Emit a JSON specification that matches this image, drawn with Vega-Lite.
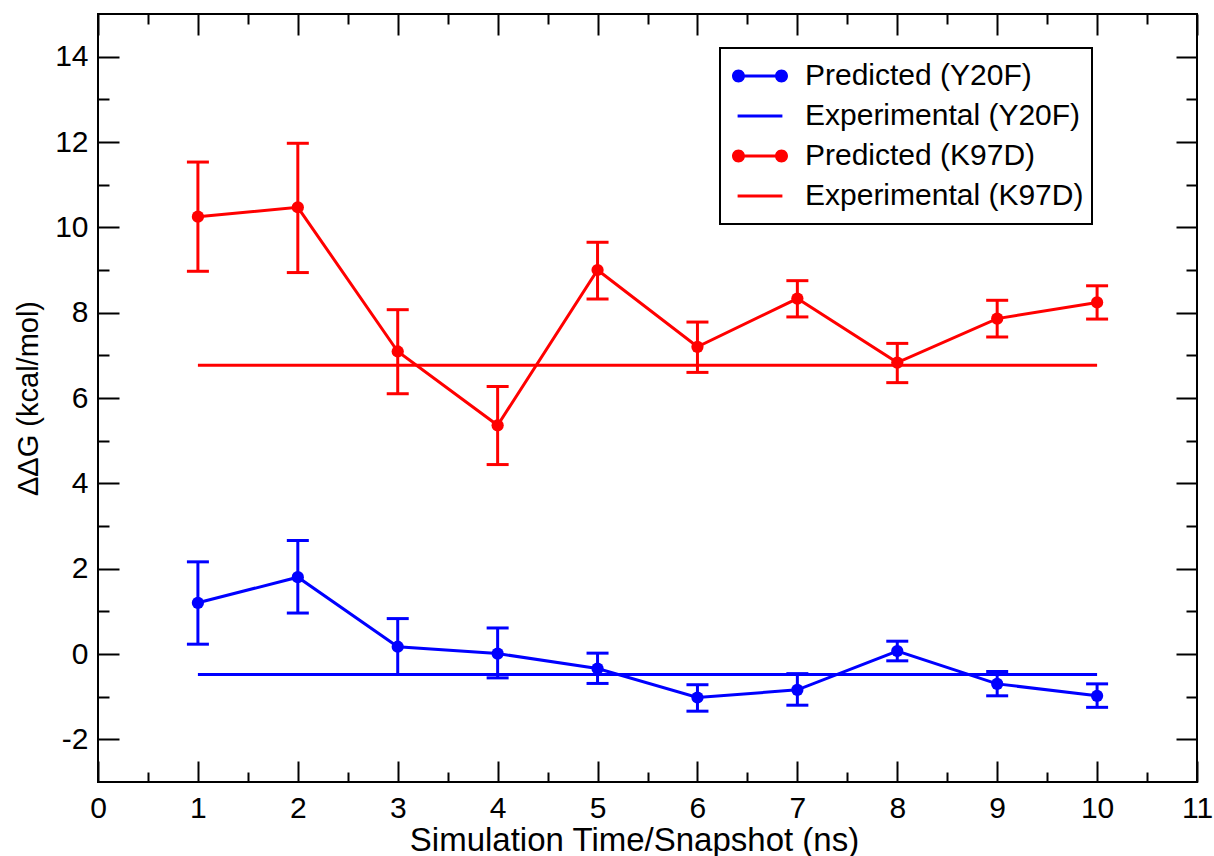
{
  "$schema": "https://vega.github.io/schema/vega-lite/v6.json",
  "autosize": {"type": "none"},
  "padding": {"left": 98, "top": 14, "right": 17, "bottom": 74},
  "width": 1099,
  "height": 768,
  "background": "white",
  "config": {
    "view": {"stroke": "black", "strokeWidth": 2},
    "font": "Liberation Sans",
    "axis": {
      "domain": false,
      "grid": false,
      "tickColor": "black",
      "tickWidth": 2,
      "labelFont": "Liberation Sans",
      "labelFontSize": 30,
      "labelColor": "black",
      "labelOverlap": false,
      "labelFlush": false,
      "titleFont": "Liberation Sans",
      "titleColor": "black",
      "titleFontWeight": "normal"
    },
    "legend": {
      "strokeColor": "black",
      "strokeWidth": 2,
      "fillColor": "white",
      "padding": 8,
      "labelFont": "Liberation Sans",
      "labelFontSize": 30,
      "labelColor": "black",
      "labelLimit": 500,
      "labelOffset": 17,
      "symbolOffset": 4,
      "symbolSize": 3136,
      "symbolOpacity": 1,
      "symbolStrokeWidth": 0,
      "clipHeight": 40,
      "rowPadding": 0
    }
  },
  "datasets": {
    "pred": [
      {"x": 1, "lab": "Predicted (Y20F)", "dg": 1.20, "lo": 0.23, "hi": 2.16},
      {"x": 2, "lab": "Predicted (Y20F)", "dg": 1.80, "lo": 0.96, "hi": 2.66},
      {"x": 3, "lab": "Predicted (Y20F)", "dg": 0.17, "lo": -0.48, "hi": 0.83},
      {"x": 4, "lab": "Predicted (Y20F)", "dg": 0.01, "lo": -0.56, "hi": 0.61},
      {"x": 5, "lab": "Predicted (Y20F)", "dg": -0.34, "lo": -0.69, "hi": 0.02},
      {"x": 6, "lab": "Predicted (Y20F)", "dg": -1.02, "lo": -1.34, "hi": -0.72},
      {"x": 7, "lab": "Predicted (Y20F)", "dg": -0.84, "lo": -1.20, "hi": -0.46},
      {"x": 8, "lab": "Predicted (Y20F)", "dg": 0.07, "lo": -0.16, "hi": 0.30},
      {"x": 9, "lab": "Predicted (Y20F)", "dg": -0.70, "lo": -0.98, "hi": -0.41},
      {"x": 10, "lab": "Predicted (Y20F)", "dg": -0.98, "lo": -1.25, "hi": -0.70},
      {"x": 1, "lab": "Predicted (K97D)", "dg": 10.25, "lo": 8.97, "hi": 11.53},
      {"x": 2, "lab": "Predicted (K97D)", "dg": 10.47, "lo": 8.94, "hi": 11.97},
      {"x": 3, "lab": "Predicted (K97D)", "dg": 7.09, "lo": 6.10, "hi": 8.07},
      {"x": 4, "lab": "Predicted (K97D)", "dg": 5.36, "lo": 4.44, "hi": 6.27},
      {"x": 5, "lab": "Predicted (K97D)", "dg": 9.00, "lo": 8.32, "hi": 9.65},
      {"x": 6, "lab": "Predicted (K97D)", "dg": 7.20, "lo": 6.60, "hi": 7.78},
      {"x": 7, "lab": "Predicted (K97D)", "dg": 8.33, "lo": 7.90, "hi": 8.75},
      {"x": 8, "lab": "Predicted (K97D)", "dg": 6.83, "lo": 6.36, "hi": 7.28},
      {"x": 9, "lab": "Predicted (K97D)", "dg": 7.86, "lo": 7.43, "hi": 8.29},
      {"x": 10, "lab": "Predicted (K97D)", "dg": 8.24, "lo": 7.85, "hi": 8.63}
    ],
    "exp": [
      {"lab": "Experimental (Y20F)", "x0": 1, "x1": 10, "dg": -0.48},
      {"lab": "Experimental (K97D)", "x0": 1, "x1": 10, "dg": 6.77}
    ],
    "leg": [
      {"lab": "Predicted (Y20F)"},
      {"lab": "Experimental (Y20F)"},
      {"lab": "Predicted (K97D)"},
      {"lab": "Experimental (K97D)"}
    ]
  },
  "resolve": {"axis": {"x": "independent", "y": "independent"}, "scale": {"color": "independent", "shape": "independent"}},
  "layer": [
    {
      "data": {"name": "exp"},
      "mark": {"type": "rule", "strokeWidth": 3},
      "encoding": {
        "x": {"field": "x0", "type": "quantitative",
          "scale": {"domain": [0, 11], "nice": false, "zero": false},
          "axis": {
            "orient": "bottom",
            "values": [0, 0.5, 1, 1.5, 2, 2.5, 3, 3.5, 4, 4.5, 5, 5.5, 6, 6.5, 7, 7.5, 8, 8.5, 9, 9.5, 10, 10.5, 11],
            "tickSize": {"condition": {"test": "datum.value % 1 === 0", "value": -21}, "value": -10},
            "labelExpr": "datum.value % 1 === 0 ? '' + datum.value : ''",
            "labelPadding": 32,
            "title": "Simulation Time/Snapshot (ns)",
            "titleFontSize": 33,
            "titleBaseline": "alphabetic",
            "titleY": 68,
            "titleX": 536
          }},
        "x2": {"field": "x1"},
        "y": {"field": "dg", "type": "quantitative",
          "scale": {"domain": [-3, 15], "nice": false, "zero": false},
          "axis": {
            "orient": "left",
            "values": [-2, -1, 0, 1, 2, 3, 4, 5, 6, 7, 8, 9, 10, 11, 12, 13, 14],
            "tickSize": {"condition": {"test": "datum.value % 2 === 0", "value": -21}, "value": -11},
            "labelExpr": "datum.value % 2 === 0 ? '' + datum.value : ''",
            "labelPadding": 31,
            "title": "ΔΔG (kcal/mol)",
            "titleFontSize": 29,
            "titleBaseline": "alphabetic",
            "titleX": -61
          }},
        "color": {"field": "lab", "type": "nominal",
          "scale": {"domain": ["Experimental (Y20F)", "Experimental (K97D)"], "range": ["#0000ff", "#ff0000"]},
          "legend": null}
      }
    },
    {
      "data": {"name": "pred"},
      "mark": {"type": "rule", "strokeWidth": 3},
      "encoding": {
        "x": {"field": "x", "type": "quantitative", "scale": {"domain": [0, 11], "nice": false, "zero": false}, "axis": null},
        "y": {"field": "lo", "type": "quantitative", "scale": {"domain": [-3, 15], "nice": false, "zero": false}, "axis": null},
        "y2": {"field": "hi"},
        "color": {"field": "lab", "type": "nominal",
          "scale": {"domain": ["Predicted (Y20F)", "Predicted (K97D)"], "range": ["#0000ff", "#ff0000"]},
          "legend": null}
      }
    },
    {
      "data": {"name": "pred"},
      "mark": {"type": "tick", "orient": "horizontal", "size": 22, "thickness": 3, "opacity": 1},
      "encoding": {
        "x": {"field": "x", "type": "quantitative", "scale": {"domain": [0, 11], "nice": false, "zero": false}, "axis": null},
        "y": {"field": "lo", "type": "quantitative", "scale": {"domain": [-3, 15], "nice": false, "zero": false}, "axis": null},
        "color": {"field": "lab", "type": "nominal",
          "scale": {"domain": ["Predicted (Y20F)", "Predicted (K97D)"], "range": ["#0000ff", "#ff0000"]},
          "legend": null}
      }
    },
    {
      "data": {"name": "pred"},
      "mark": {"type": "tick", "orient": "horizontal", "size": 22, "thickness": 3, "opacity": 1},
      "encoding": {
        "x": {"field": "x", "type": "quantitative", "scale": {"domain": [0, 11], "nice": false, "zero": false}, "axis": null},
        "y": {"field": "hi", "type": "quantitative", "scale": {"domain": [-3, 15], "nice": false, "zero": false}, "axis": null},
        "color": {"field": "lab", "type": "nominal",
          "scale": {"domain": ["Predicted (Y20F)", "Predicted (K97D)"], "range": ["#0000ff", "#ff0000"]},
          "legend": null}
      }
    },
    {
      "data": {"name": "pred"},
      "mark": {"type": "line", "strokeWidth": 3},
      "encoding": {
        "x": {"field": "x", "type": "quantitative", "scale": {"domain": [0, 11], "nice": false, "zero": false}, "axis": null},
        "y": {"field": "dg", "type": "quantitative", "scale": {"domain": [-3, 15], "nice": false, "zero": false}, "axis": null},
        "color": {"field": "lab", "type": "nominal",
          "scale": {"domain": ["Predicted (Y20F)", "Predicted (K97D)"], "range": ["#0000ff", "#ff0000"]},
          "legend": null}
      }
    },
    {
      "data": {"name": "pred"},
      "mark": {"type": "point", "filled": true, "size": 150, "opacity": 1},
      "encoding": {
        "x": {"field": "x", "type": "quantitative", "scale": {"domain": [0, 11], "nice": false, "zero": false},
          "axis": {
            "orient": "top",
            "values": [0, 0.5, 1, 1.5, 2, 2.5, 3, 3.5, 4, 4.5, 5, 5.5, 6, 6.5, 7, 7.5, 8, 8.5, 9, 9.5, 10, 10.5, 11],
            "tickSize": {"condition": {"test": "datum.value % 1 === 0", "value": -21}, "value": -10},
            "labels": false,
            "title": null
          }},
        "y": {"field": "dg", "type": "quantitative", "scale": {"domain": [-3, 15], "nice": false, "zero": false},
          "axis": {
            "orient": "right",
            "values": [-2, -1, 0, 1, 2, 3, 4, 5, 6, 7, 8, 9, 10, 11, 12, 13, 14],
            "tickSize": {"condition": {"test": "datum.value % 2 === 0", "value": -21}, "value": -11},
            "labels": false,
            "title": null
          }},
        "color": {"field": "lab", "type": "nominal",
          "scale": {"domain": ["Predicted (Y20F)", "Predicted (K97D)"], "range": ["#0000ff", "#ff0000"]},
          "legend": null}
      }
    },
    {
      "data": {"name": "leg"},
      "mark": {"type": "point", "filled": true, "opacity": 0},
      "encoding": {
        "x": {"datum": 5, "type": "quantitative", "scale": {"domain": [0, 11], "nice": false, "zero": false}, "axis": null},
        "y": {"datum": 5, "type": "quantitative", "scale": {"domain": [-3, 15], "nice": false, "zero": false}, "axis": null},
        "color": {"field": "lab", "type": "nominal",
          "scale": {"domain": ["Predicted (Y20F)", "Experimental (Y20F)", "Predicted (K97D)", "Experimental (K97D)"],
                    "range": ["#0000ff", "#0000ff", "#ff0000", "#ff0000"]},
          "legend": {"title": null, "orient": "none", "legendX": 622, "legendY": 34}},
        "shape": {"field": "lab", "type": "nominal",
          "scale": {"domain": ["Predicted (Y20F)", "Experimental (Y20F)", "Predicted (K97D)", "Experimental (K97D)"],
                    "range": [
                      "M-1,0A0.232,0.232 0 1,1 -0.536,0A0.232,0.232 0 1,1 -1,0ZM0.536,0A0.232,0.232 0 1,1 1,0A0.232,0.232 0 1,1 0.536,0ZM-0.56,-0.054L0.56,-0.054L0.56,0.054L-0.56,0.054Z",
                      "M-0.8,-0.054L0.8,-0.054L0.8,0.054L-0.8,0.054Z",
                      "M-1,0A0.232,0.232 0 1,1 -0.536,0A0.232,0.232 0 1,1 -1,0ZM0.536,0A0.232,0.232 0 1,1 1,0A0.232,0.232 0 1,1 0.536,0ZM-0.56,-0.054L0.56,-0.054L0.56,0.054L-0.56,0.054Z",
                      "M-0.8,-0.054L0.8,-0.054L0.8,0.054L-0.8,0.054Z"
                    ]},
          "legend": {"title": null, "orient": "none", "legendX": 622, "legendY": 34}}
      }
    }
  ]
}
